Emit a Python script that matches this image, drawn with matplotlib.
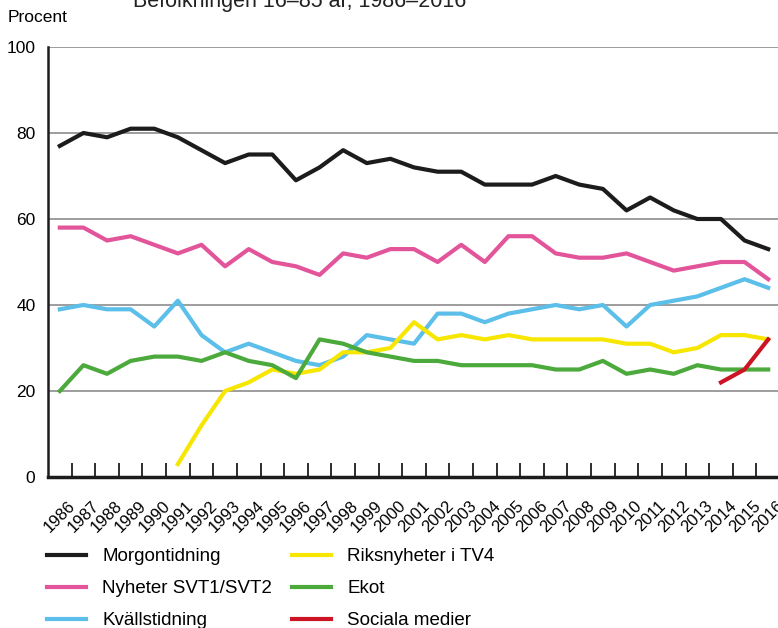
import numpy as np
import matplotlib
matplotlib.use("Agg")
import matplotlib.pyplot as plt

plt.rcParams['font.family'] = ['Liberation Sans', 'DejaVu Sans']

# data (percent)
years = list(range(1986, 2017))
morgon = [77, 80, 79, 81, 81, 79, 76, 73, 75, 75, 69, 72, 76, 73, 74, 72,
          71, 71, 68, 68, 68, 70, 68, 67, 62, 65, 62, 60, 60, 55, 53]
svt = [58, 58, 55, 56, 54, 52, 54, 49, 53, 50, 49, 47, 52, 51, 53, 53,
       50, 54, 50, 56, 56, 52, 51, 51, 52, 50, 48, 49, 50, 50, 46]
kvall = [39, 40, 39, 39, 35, 41, 33, 29, 31, 29, 27, 26, 28, 33, 32, 31,
         38, 38, 36, 38, 39, 40, 39, 40, 35, 40, 41, 42, 44, 46, 44]
tv4_years = list(range(1991, 2017))
tv4 = [3, 12, 20, 22, 25, 24, 25, 29, 29, 30, 36,
       32, 33, 32, 33, 32, 32, 32, 32, 31, 31, 29, 30, 33, 33, 32]
ekot = [20, 26, 24, 27, 28, 28, 27, 29, 27, 26, 23, 32, 31, 29, 28, 27,
        27, 26, 26, 26, 26, 25, 25, 27, 24, 25, 24, 26, 25, 25, 25]
sociala_years = [2014, 2015, 2016]
sociala = [22, 25, 32]

fig = plt.figure(figsize=(7.78, 6.28), dpi=100)
ax = fig.add_axes([48 / 778, 151 / 628, 732 / 778, 430 / 628])

lw = 3.0
ax.plot(years, morgon, color='#1c1c1c', lw=lw, label='Morgontidning')
ax.plot(years, svt, color='#e3559a', lw=lw, label='Nyheter SVT1/SVT2')
ax.plot(years, kvall, color='#5bbfe9', lw=lw, label='Kvällstidning')
ax.plot(tv4_years, tv4, color='#f7e600', lw=lw, label='Riksnyheter i TV4')
ax.plot(years, ekot, color='#4caa3c', lw=lw, label='Ekot')
ax.plot(sociala_years, sociala, color='#cc1424', lw=lw, label='Sociala medier')

ax.set_xlim(1985.5, 2016.5)
ax.set_ylim(0, 100)

# gridlines
for v in [20, 40, 60, 80, 100]:
    ax.axhline(v, color='#8c8c8c', lw=1.2, zorder=0)

ax.set_yticks([0, 20, 40, 60, 80, 100])
ax.tick_params(axis='y', length=0, labelsize=12.5, pad=9)

ax.set_xticks(years)
ax.set_xticklabels([str(y) for y in years], rotation=45, ha='center',
                   va='top', fontsize=12)
ax.tick_params(axis='x', which='major', length=0, pad=15)
ax.set_xticks([y + 0.5 for y in years[:-1]], minor=True)
ax.tick_params(axis='x', which='minor', direction='in', length=10,
               width=1.3, color='#1c1c1c')

for s in ['top', 'right']:
    ax.spines[s].set_visible(False)
ax.spines['left'].set_linewidth(1.8)
ax.spines['bottom'].set_linewidth(2.5)
ax.spines['left'].set_color('#1c1c1c')
ax.spines['bottom'].set_color('#1c1c1c')

fig.text(8 / 778, 1 - 17 / 628, 'Procent', fontsize=12.5, va='center', ha='left')
fig.text(133 / 778, 1 - 7 / 628, 'Befolkningen 16–85 år, 1986–2016',
         fontsize=15.5, va='baseline', ha='left', color='#222222')

fig.legend(loc='upper left', bbox_to_anchor=(47 / 778, 1 - 548 / 628),
           ncol=2, frameon=False, fontsize=13.5, handlelength=2.1,
           handletextpad=0.85, columnspacing=1.05, labelspacing=0.8,
           borderpad=0, borderaxespad=0)

fig.savefig('out.png', dpi=100)
